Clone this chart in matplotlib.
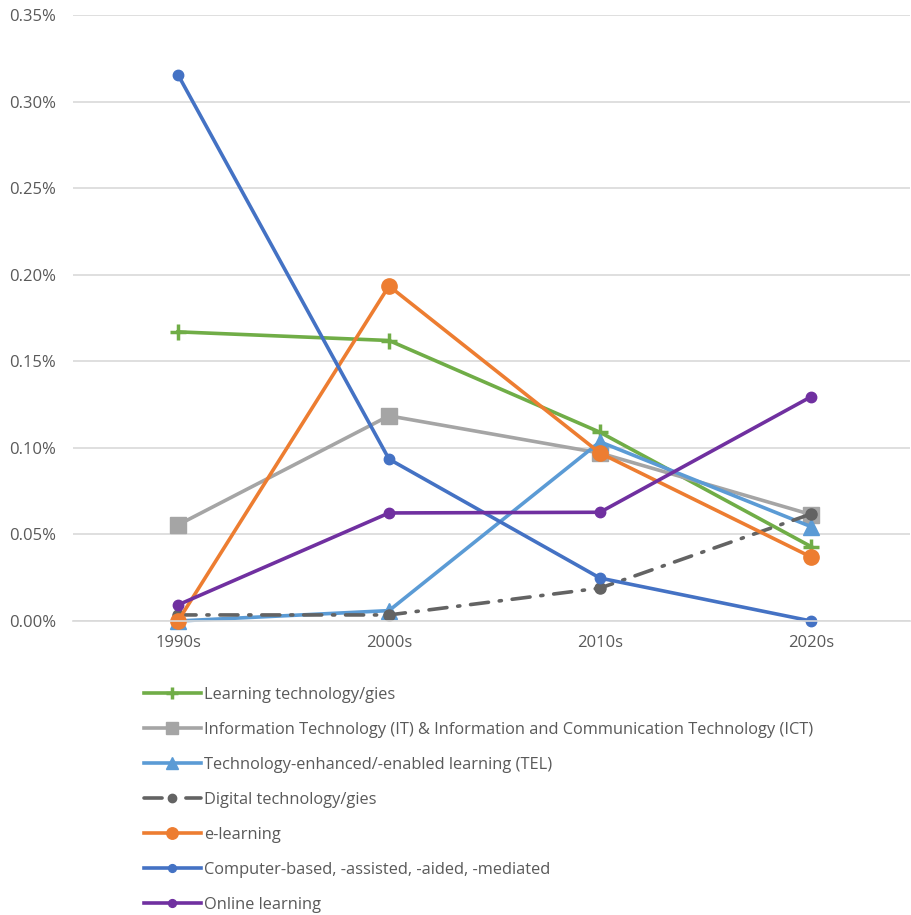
import matplotlib
matplotlib.use("Agg")
import matplotlib.pyplot as plt
from matplotlib.ticker import FuncFormatter

plt.rcParams['font.family'] = ['Open Sans', 'DejaVu Sans']

decades = ["1990s", "2000s", "2010s", "2020s"]
learning_tech = [0.167, 0.162, 0.109, 0.043]
it_ict = [0.0555, 0.1185, 0.097, 0.0615]
tel = [0.0, 0.006, 0.1035, 0.0545]
digital = [0.0035, 0.0035, 0.019, 0.0618]
e_learning = [0.0, 0.1935, 0.097, 0.037]
computer = [0.3155, 0.0935, 0.0248, 0.0]
online = [0.0093, 0.0624, 0.0628, 0.1295]

labels = [
    "Learning technology/gies",
    "Information Technology (IT) & Information and Communication Technology (ICT)",
    "Technology-enhanced/-enabled learning (TEL)",
    "Digital technology/gies",
    "e-learning",
    "Computer-based, -assisted, -aided, -mediated",
    "Online learning",
]

W, H = 911, 915
fig = plt.figure(figsize=(W / 100, H / 100), dpi=100)
ax = fig.add_axes([73 / W, (H - 621) / H, (910 - 73) / W, (621 - 15) / H])

x = list(range(len(decades)))
lw = 2.6
ax.plot(x, learning_tech, color="#70AD47", lw=lw, marker="+", ms=11, mew=2.5, label=labels[0])
ax.plot(x, it_ict, color="#A5A5A5", lw=lw, marker="s", ms=11, label=labels[1])
ax.plot(x, tel, color="#5B9BD5", lw=lw, marker="^", ms=11, label=labels[2])
ax.plot(x, digital, color="#636363", lw=lw, marker="o", ms=8, label=labels[3],
        dashes=(5, 3, 0.6, 3), dash_capstyle="round")
ax.plot(x, e_learning, color="#ED7D31", lw=lw, marker="o", ms=11, label=labels[4])
ax.plot(x, computer, color="#4472C4", lw=lw, marker="o", ms=7.5, label=labels[5])
ax.plot(x, online, color="#7030A0", lw=lw, marker="o", ms=7.5, label=labels[6])

ax.set_xlim(-105 / 211, 3 + 99 / 211)
ax.set_ylim(0, 0.35)
ax.set_yticks([0, 0.05, 0.10, 0.15, 0.20, 0.25, 0.30, 0.35])
ax.yaxis.set_major_formatter(FuncFormatter(lambda v, p: f"{v:.2f}%"))
ax.set_xticks(x)
ax.set_xticklabels(decades)
ax.grid(axis="y", color="#D9D9D9", lw=1.2)
ax.set_axisbelow(True)
for s in ["top", "right", "left"]:
    ax.spines[s].set_visible(False)
ax.spines["bottom"].set_color("#D9D9D9")
ax.spines["bottom"].set_linewidth(1.2)
ax.tick_params(axis="both", length=0, labelsize=12, labelcolor="#595959")
ax.tick_params(axis="x", pad=10)
ax.tick_params(axis="y", pad=12)
for ln in ax.lines:
    ln.set_clip_on(False)

handles, labs = ax.get_legend_handles_labels()
leg = fig.legend(handles, labs, loc="upper left", bbox_to_anchor=(144 / W, 1 - 687 / H),
                 frameon=False, fontsize=11.8, labelcolor="#595959", markerscale=0.75,
                 handlelength=3.45, handletextpad=0.22, labelspacing=1.16,
                 borderaxespad=0, borderpad=0)

fig.savefig("out.png", dpi=100, facecolor="white")
